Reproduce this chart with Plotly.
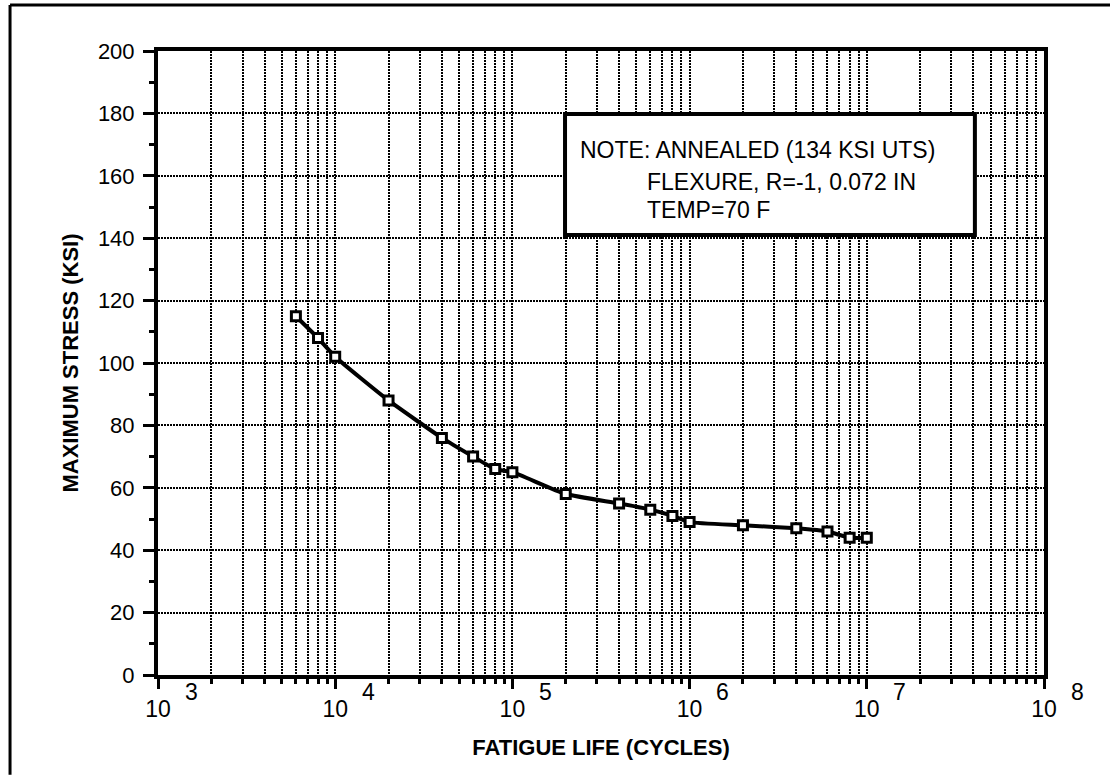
import numpy as np
import plotly.graph_objects as go

# S-N data: fatigue life (cycles) vs maximum stress (ksi)
cycles = [6e3, 8e3, 1e4, 2e4, 4e4, 6e4, 8e4, 1e5, 2e5, 4e5, 6e5, 8e5,
          1e6, 2e6, 4e6, 6e6, 8e6, 1e7]
stress_ksi = [115, 108, 102, 88, 76, 70, 66, 65, 58, 55, 53, 51,
              49, 48, 47, 46, 44, 44]

decade_exponents = [3, 4, 5, 6, 7, 8]
stress_ticks = [0, 20, 40, 60, 80, 100, 120, 140, 160, 180, 200]
note_lines = ["NOTE: ANNEALED (134 KSI UTS)",
              "FLEXURE, R=-1, 0.072 IN",
              "TEMP=70 F"]

FONT = "Liberation Sans, Arial, Helvetica, sans-serif"

decade_vals = [10.0 ** e for e in decade_exponents]
minor_vals = [m * 10.0 ** e for e in decade_exponents[:-1] for m in range(2, 10)]

fig = go.Figure()
fig.add_trace(go.Scatter(
    x=cycles, y=stress_ksi, mode="lines+markers",
    line=dict(color="black", width=4, shape="spline", smoothing=0.5),
    marker=dict(symbol="square", size=9, color="white",
                line=dict(color="black", width=3)),
    showlegend=False, hoverinfo="x+y",
))

grid_dash = "2px,1px"
grid_w = 2.2
fig.update_xaxes(
    type="log", range=[3, 8],
    tickmode="array", tickvals=decade_vals, ticktext=["10"] * len(decade_vals),
    ticks="outside", ticklen=10, tickwidth=3, tickcolor="black",
    showgrid=True, gridcolor="black", gridwidth=grid_w, griddash=grid_dash,
    minor=dict(tickmode="array", tickvals=minor_vals, ticks="outside",
               ticklen=5, tickwidth=3, tickcolor="black",
               showgrid=True, gridcolor="black", gridwidth=grid_w, griddash=grid_dash),
    showline=True, linecolor="black", linewidth=4, mirror=True,
    tickfont=dict(family=FONT, size=23, color="black"),
    title=dict(text="<b>FATIGUE LIFE (CYCLES)</b>", standoff=20,
               font=dict(family=FONT, size=22, color="black")),
)
fig.update_yaxes(
    range=[0, 200], tickmode="array", tickvals=stress_ticks,
    ticks="outside", ticklen=11, tickwidth=3, tickcolor="black",
    showgrid=True, gridcolor="black", gridwidth=grid_w, griddash=grid_dash,
    zeroline=False,
    minor=dict(dtick=10, ticks="outside", ticklen=5, tickwidth=3,
               tickcolor="black", showgrid=False),
    showline=True, linecolor="black", linewidth=4, mirror=True,
    tickfont=dict(family=FONT, size=22, color="black"),
    ticklabelstandoff=4,
    title=dict(text="<b>MAXIMUM STRESS (KSI)</b>", standoff=14,
               font=dict(family=FONT, size=22, color="black")),
)

# Decade exponents beside each "10" tick label
for e in decade_exponents:
    fig.add_annotation(x=e, xref="x", y=0, yref="paper", text=str(e),
                       showarrow=False, xanchor="center", yanchor="middle",
                       xshift=33, yshift=-17,
                       font=dict(family=FONT, size=23, color="black"))

# Note box
fig.add_shape(type="rect", xref="paper", yref="paper",
              x0=0.4594, x1=0.922, y0=0.705, y1=0.899,
              fillcolor="white", line=dict(color="black", width=4), layer="above")
note_pos = [(0.4740, 0.8413), (0.5500, 0.7901), (0.5500, 0.7452)]
for txt, (px, py) in zip(note_lines, note_pos):
    fig.add_annotation(x=px, y=py, xref="paper", yref="paper", text=txt,
                       showarrow=False, xanchor="left", yanchor="middle",
                       font=dict(family=FONT, size=23, color="black"))

# Outer frame around the whole figure
fig.add_shape(type="line", xref="paper", yref="paper",
              x0=-0.167, x1=-0.167, y0=1.0737, y1=-0.16,
              line=dict(color="black", width=3))
fig.add_shape(type="line", xref="paper", yref="paper",
              x0=-0.167, x1=1.08, y0=1.0737, y1=1.0737,
              line=dict(color="black", width=3))

fig.update_layout(
    width=1110, height=775,
    margin=dict(l=158, r=66, t=51, b=100),
    paper_bgcolor="white", plot_bgcolor="white",
    font=dict(family=FONT, color="black"),
)

fig.write_html("out.html")
